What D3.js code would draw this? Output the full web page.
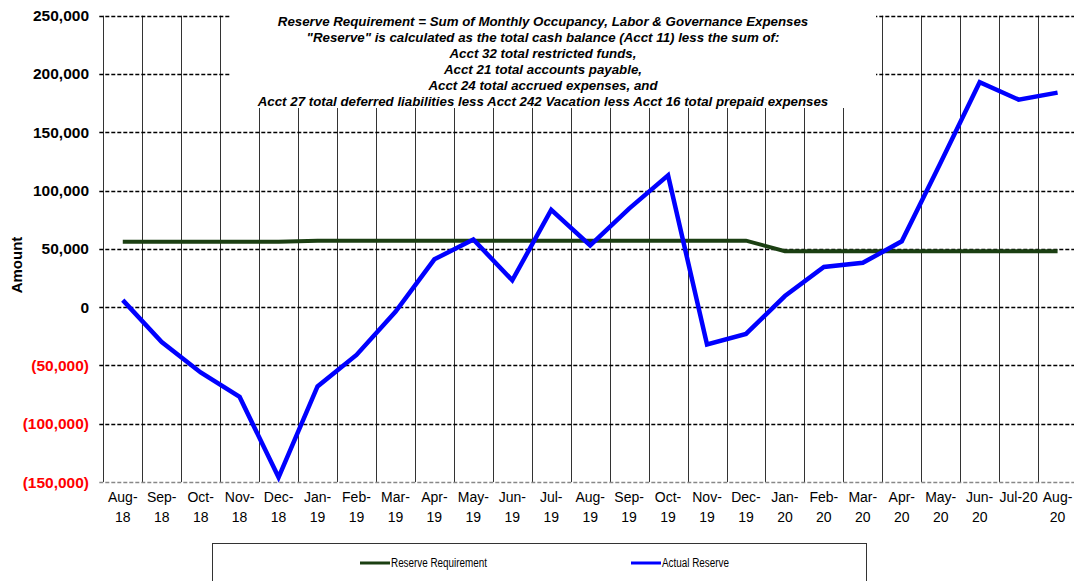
<!DOCTYPE html>
<html>
<head>
<meta charset="utf-8">
<script src="https://cdn.jsdelivr.net/npm/d3@7"></script>
<style>
  body { margin: 0; background: #fff; }
  svg { display: block; font-family: "Liberation Sans", Arial, sans-serif; }
</style>
</head>
<body>
<svg id="chart" width="1074" height="581"></svg>
<script>
// months on the category axis, two-line labels
var months = ["Aug-18", "Sep-18", "Oct-18", "Nov-18", "Dec-18", "Jan-19", "Feb-19", "Mar-19", "Apr-19",
  "May-19", "Jun-19", "Jul-19", "Aug-19", "Sep-19", "Oct-19", "Nov-19", "Dec-19", "Jan-20", "Feb-20",
  "Mar-20", "Apr-20", "May-20", "Jun-20", "Jul-20", "Aug-20"];

var reserveRequirement = [56000, 56000, 56000, 56000, 56000, 57000, 57000, 57000, 57000, 57000, 57000,
  57000, 57000, 57000, 57000, 57000, 57000, 48000, 48000, 48000, 48000, 48000, 48000, 48000, 48000];

var actualReserve = [6000, -30000, -56000, -77000, -146000, -68000, -41000, -4000, 41000, 58000, 23000,
  83500, 53000, 84500, 113000, -32000, -23000, 9500, 34500, 38000, 56500, 124000, 193000, 178000, 184000];

var yTicks = [250000, 200000, 150000, 100000, 50000, 0, -50000, -100000, -150000];

var noteLines = [
  "Reserve Requirement = Sum of Monthly Occupancy, Labor & Governance Expenses",
  "\"Reserve\" is calculated as the total cash balance (Acct 11) less the sum of:",
  "Acct 32 total restricted funds,",
  "Acct 21 total accounts payable,",
  "Acct 24 total accrued expenses, and",
  "Acct 27 total deferred liabilities less Acct 242 Vacation less Acct 16 total prepaid expenses"
];

var svg = d3.select("#chart");
var plotLeft = 103.3, plotTop = 15.7, plotBottom = 482, band = 38.95;

var x = d3.scaleBand().domain(months).range([plotLeft, plotLeft + band * months.length]).padding(0);
var y = d3.scaleLinear().domain([-150000, 250000]).range([plotBottom, plotTop]);

var fmt = d3.format(",");
function tickText(v) { return v < 0 ? "(" + fmt(-v) + ")" : fmt(v); }

// vertical grid (category separators)
var g = svg.append("g");
g.selectAll("line.vgrid")
  .data(months)
  .enter().append("line")
  .attr("x1", function(d) { return Math.round(x(d)) + 0.5; })
  .attr("x2", function(d) { return Math.round(x(d)) + 0.5; })
  .attr("y1", plotTop).attr("y2", plotBottom)
  .attr("stroke", "#333").attr("stroke-width", 1);

// horizontal dashed grid
g.selectAll("line.hgrid")
  .data(yTicks)
  .enter().append("line")
  .attr("x1", plotLeft - 4).attr("x2", 1074)
  .attr("y1", function(d) { return Math.round(y(d)) + 0.5; })
  .attr("y2", function(d) { return Math.round(y(d)) + 0.5; })
  .attr("stroke", function(d) { return d === -150000 ? "#888" : "#000"; })
  .attr("stroke-width", 1.5)
  .attr("stroke-dasharray", "4,2");

// y tick labels
svg.append("g").selectAll("text")
  .data(yTicks)
  .enter().append("text")
  .attr("x", 89)
  .attr("y", function(d) { return y(d) + 5.5; })
  .attr("text-anchor", "end")
  .attr("font-size", 15.5)
  .attr("font-weight", "bold")
  .attr("fill", function(d) { return d < 0 ? "#ff0000" : "#000"; })
  .text(tickText);

svg.append("text")
  .attr("transform", "translate(22,265) rotate(-90)")
  .attr("text-anchor", "middle")
  .attr("font-size", 15)
  .attr("font-weight", "bold")
  .text("Amount");

// x labels
var xl = svg.append("g").selectAll("text")
  .data(months)
  .enter().append("text")
  .attr("text-anchor", "middle")
  .attr("font-size", 14)
  .attr("fill", "#000");
xl.each(function(d) {
  var t = d3.select(this), cx = x(d) + x.bandwidth() / 2;
  if (d === "Jul-20") {
    t.append("tspan").attr("x", cx).attr("y", 502).text(d);
  } else {
    var p = d.split("-");
    t.append("tspan").attr("x", cx).attr("y", 502).text(p[0] + "-");
    t.append("tspan").attr("x", cx).attr("y", 522).text(p[1]);
  }
});

// note box over the top of the grid
svg.append("rect")
  .attr("x", 230).attr("y", 0).attr("width", 646).attr("height", 108)
  .attr("fill", "#fff");
svg.append("g").selectAll("text")
  .data(noteLines)
  .enter().append("text")
  .attr("x", 543)
  .attr("y", function(d, i) { return 26 + i * 16; })
  .attr("text-anchor", "middle")
  .attr("font-size", 13.3)
  .attr("font-weight", "bold")
  .attr("font-style", "italic")
  .text(function(d) { return d; });

// series lines
var line = d3.line()
  .x(function(d, i) { return x(months[i]) + x.bandwidth() / 2; })
  .y(function(d) { return y(d); });

svg.append("path")
  .datum(reserveRequirement)
  .attr("d", line)
  .attr("fill", "none")
  .attr("stroke", "#1b3f12")
  .attr("stroke-width", 4);

svg.append("path")
  .datum(actualReserve)
  .attr("d", line)
  .attr("fill", "none")
  .attr("stroke", "#0000ff")
  .attr("stroke-width", 4.5)
  .attr("stroke-linejoin", "miter");

// legend
var lg = svg.append("g");
lg.append("rect")
  .attr("x", 212.5).attr("y", 543.5).attr("width", 654).attr("height", 60)
  .attr("fill", "#fff").attr("stroke", "#333").attr("stroke-width", 1);
var legendItems = [
  { name: "Reserve Requirement", color: "#1b3f12", x: 360, w: 96 },
  { name: "Actual Reserve", color: "#0000ff", x: 631, w: 67 }
];
legendItems.forEach(function(it) {
  lg.append("line")
    .attr("x1", it.x).attr("x2", it.x + 30).attr("y1", 563).attr("y2", 563)
    .attr("stroke", it.color).attr("stroke-width", 3);
  lg.append("text")
    .attr("x", it.x + 31).attr("y", 567)
    .attr("font-size", 12)
    .attr("textLength", it.w)
    .attr("lengthAdjust", "spacingAndGlyphs")
    .text(it.name);
});
</script>
</body>
</html>
